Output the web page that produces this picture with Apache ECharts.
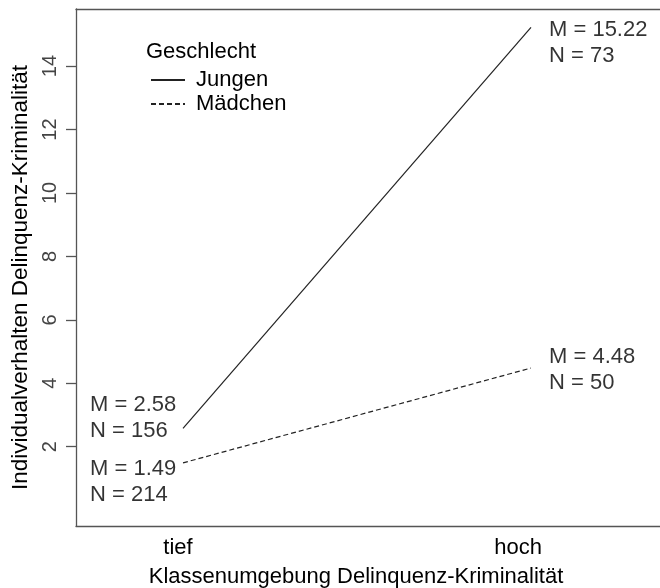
<!DOCTYPE html>
<html>
<head>
<meta charset="utf-8">
<script src="https://cdn.jsdelivr.net/npm/echarts@6/dist/echarts.min.js"></script>
<style>
  html, body { margin: 0; padding: 0; background: #fff; }
  #main { width: 660px; height: 588px; }
</style>
</head>
<body>
<div id="main"></div>
<script>
// Daten: Mittelwerte und Fallzahlen je Gruppe
var categories = ['tief', 'hoch'];
var groups = ['Jungen', 'Mädchen'];
var jungenM = [2.58, 15.22];
var jungenN = [156, 73];
var maedchenM = [1.49, 4.48];
var maedchenN = [214, 50];
var yTicks = [2, 4, 6, 8, 10, 12, 14];

var font = 'Liberation Sans, Arial, sans-serif';
var boxLine = { show: true, onZero: false, lineStyle: { color: '#555', width: 1.3 } };
var chart = echarts.init(document.getElementById('main'), null, { renderer: 'canvas' });

// Annotationen "M = .. / N = .." an den Endpunkten
function annot(means, counts, offsets) {
  return means.map(function (m, i) {
    return {
      value: [i + 1, m],
      label: {
        show: true,
        position: offsets[i],
        formatter: 'M = ' + m.toFixed(2) + '\nN = ' + counts[i]
      }
    };
  });
}

var option = {
  backgroundColor: '#ffffff',
  animation: false,
  title: {
    text: 'Geschlecht',
    left: 141,
    top: 36,
    textStyle: { fontFamily: font, fontSize: 22, fontWeight: 'normal', color: '#000' }
  },
  legend: {
    data: groups,
    orient: 'vertical',
    left: 145,
    top: 63,
    itemWidth: 34,
    itemHeight: 14,
    itemGap: 0,
    itemStyle: { opacity: 0 },
    textStyle: { fontFamily: font, fontSize: 22, lineHeight: 24, color: '#000', padding: [0, 0, 0, 6] }
  },
  grid: { left: 76, top: 9, bottom: 62, right: 0, outerBoundsMode: 'none' },
  xAxis: [{
    type: 'value',
    min: 0.6925, max: 2.3707,
    axisLine: boxLine, axisTick: { show: false },
    axisLabel: { show: false }, splitLine: { show: false }
  }, {
    type: 'value',
    position: 'bottom',
    min: 0.7, max: 2.4176,
    axisLine: { show: false }, axisTick: { show: false }, splitLine: { show: false },
    axisLabel: {
      customValues: [1, 2],
      formatter: function (v) { return categories[Math.round(v) - 1]; },
      fontFamily: font, fontSize: 22, color: '#000', margin: 11
    },
    name: 'Klassenumgebung Delinquenz-Kriminalität',
    nameLocation: 'middle',
    nameGap: 40,
    nameTextStyle: { fontFamily: font, fontSize: 22, color: '#000', padding: [0, 24, 0, 0] }
  }, {
    type: 'value',
    position: 'top',
    min: 0.6925, max: 2.3707,
    axisLine: boxLine, axisTick: { show: false },
    axisLabel: { show: false }, splitLine: { show: false }
  }],
  yAxis: {
    type: 'value',
    min: -0.5, max: 15.8,
    axisLine: boxLine,
    splitLine: { show: false },
    axisTick: { show: true, customValues: yTicks, length: 10, lineStyle: { color: '#555', width: 1.3 } },
    axisLabel: {
      customValues: yTicks, rotate: 90, margin: 16,
      fontFamily: font, fontSize: 20, color: '#444'
    },
    name: 'Individualverhalten Delinquenz-Kriminalität',
    nameLocation: 'middle',
    nameGap: 43,
    nameTextStyle: { fontFamily: font, fontSize: 22.5, color: '#000', padding: [0, 20, 0, 0] }
  },
  series: [{
    name: 'Jungen',
    type: 'line',
    xAxisIndex: 0,
    symbol: 'none',
    data: jungenM.map(function (m, i) { return [i + 1, m]; }),
    lineStyle: { color: '#222', width: 1.2, type: 'solid' },
    itemStyle: { color: '#222' }
  }, {
    name: 'Mädchen',
    type: 'line',
    xAxisIndex: 0,
    symbol: 'none',
    data: maedchenM.map(function (m, i) { return [i + 1, m]; }),
    lineStyle: { color: '#222', width: 1.2, type: [5, 3] },
    itemStyle: { color: '#222' }
  }, {
    type: 'scatter',
    xAxisIndex: 0,
    symbolSize: 0,
    silent: true,
    label: {
      fontFamily: font, fontSize: 22, color: '#000', lineHeight: 26,
      align: 'left', verticalAlign: 'top'
    },
    data: annot(jungenM, jungenN, [[-93, -36], [18, -10]])
      .concat(annot(maedchenM, maedchenN, [[-93, -7], [18, -24]]))
  }]
};
chart.setOption(option);
</script>
</body>
</html>
